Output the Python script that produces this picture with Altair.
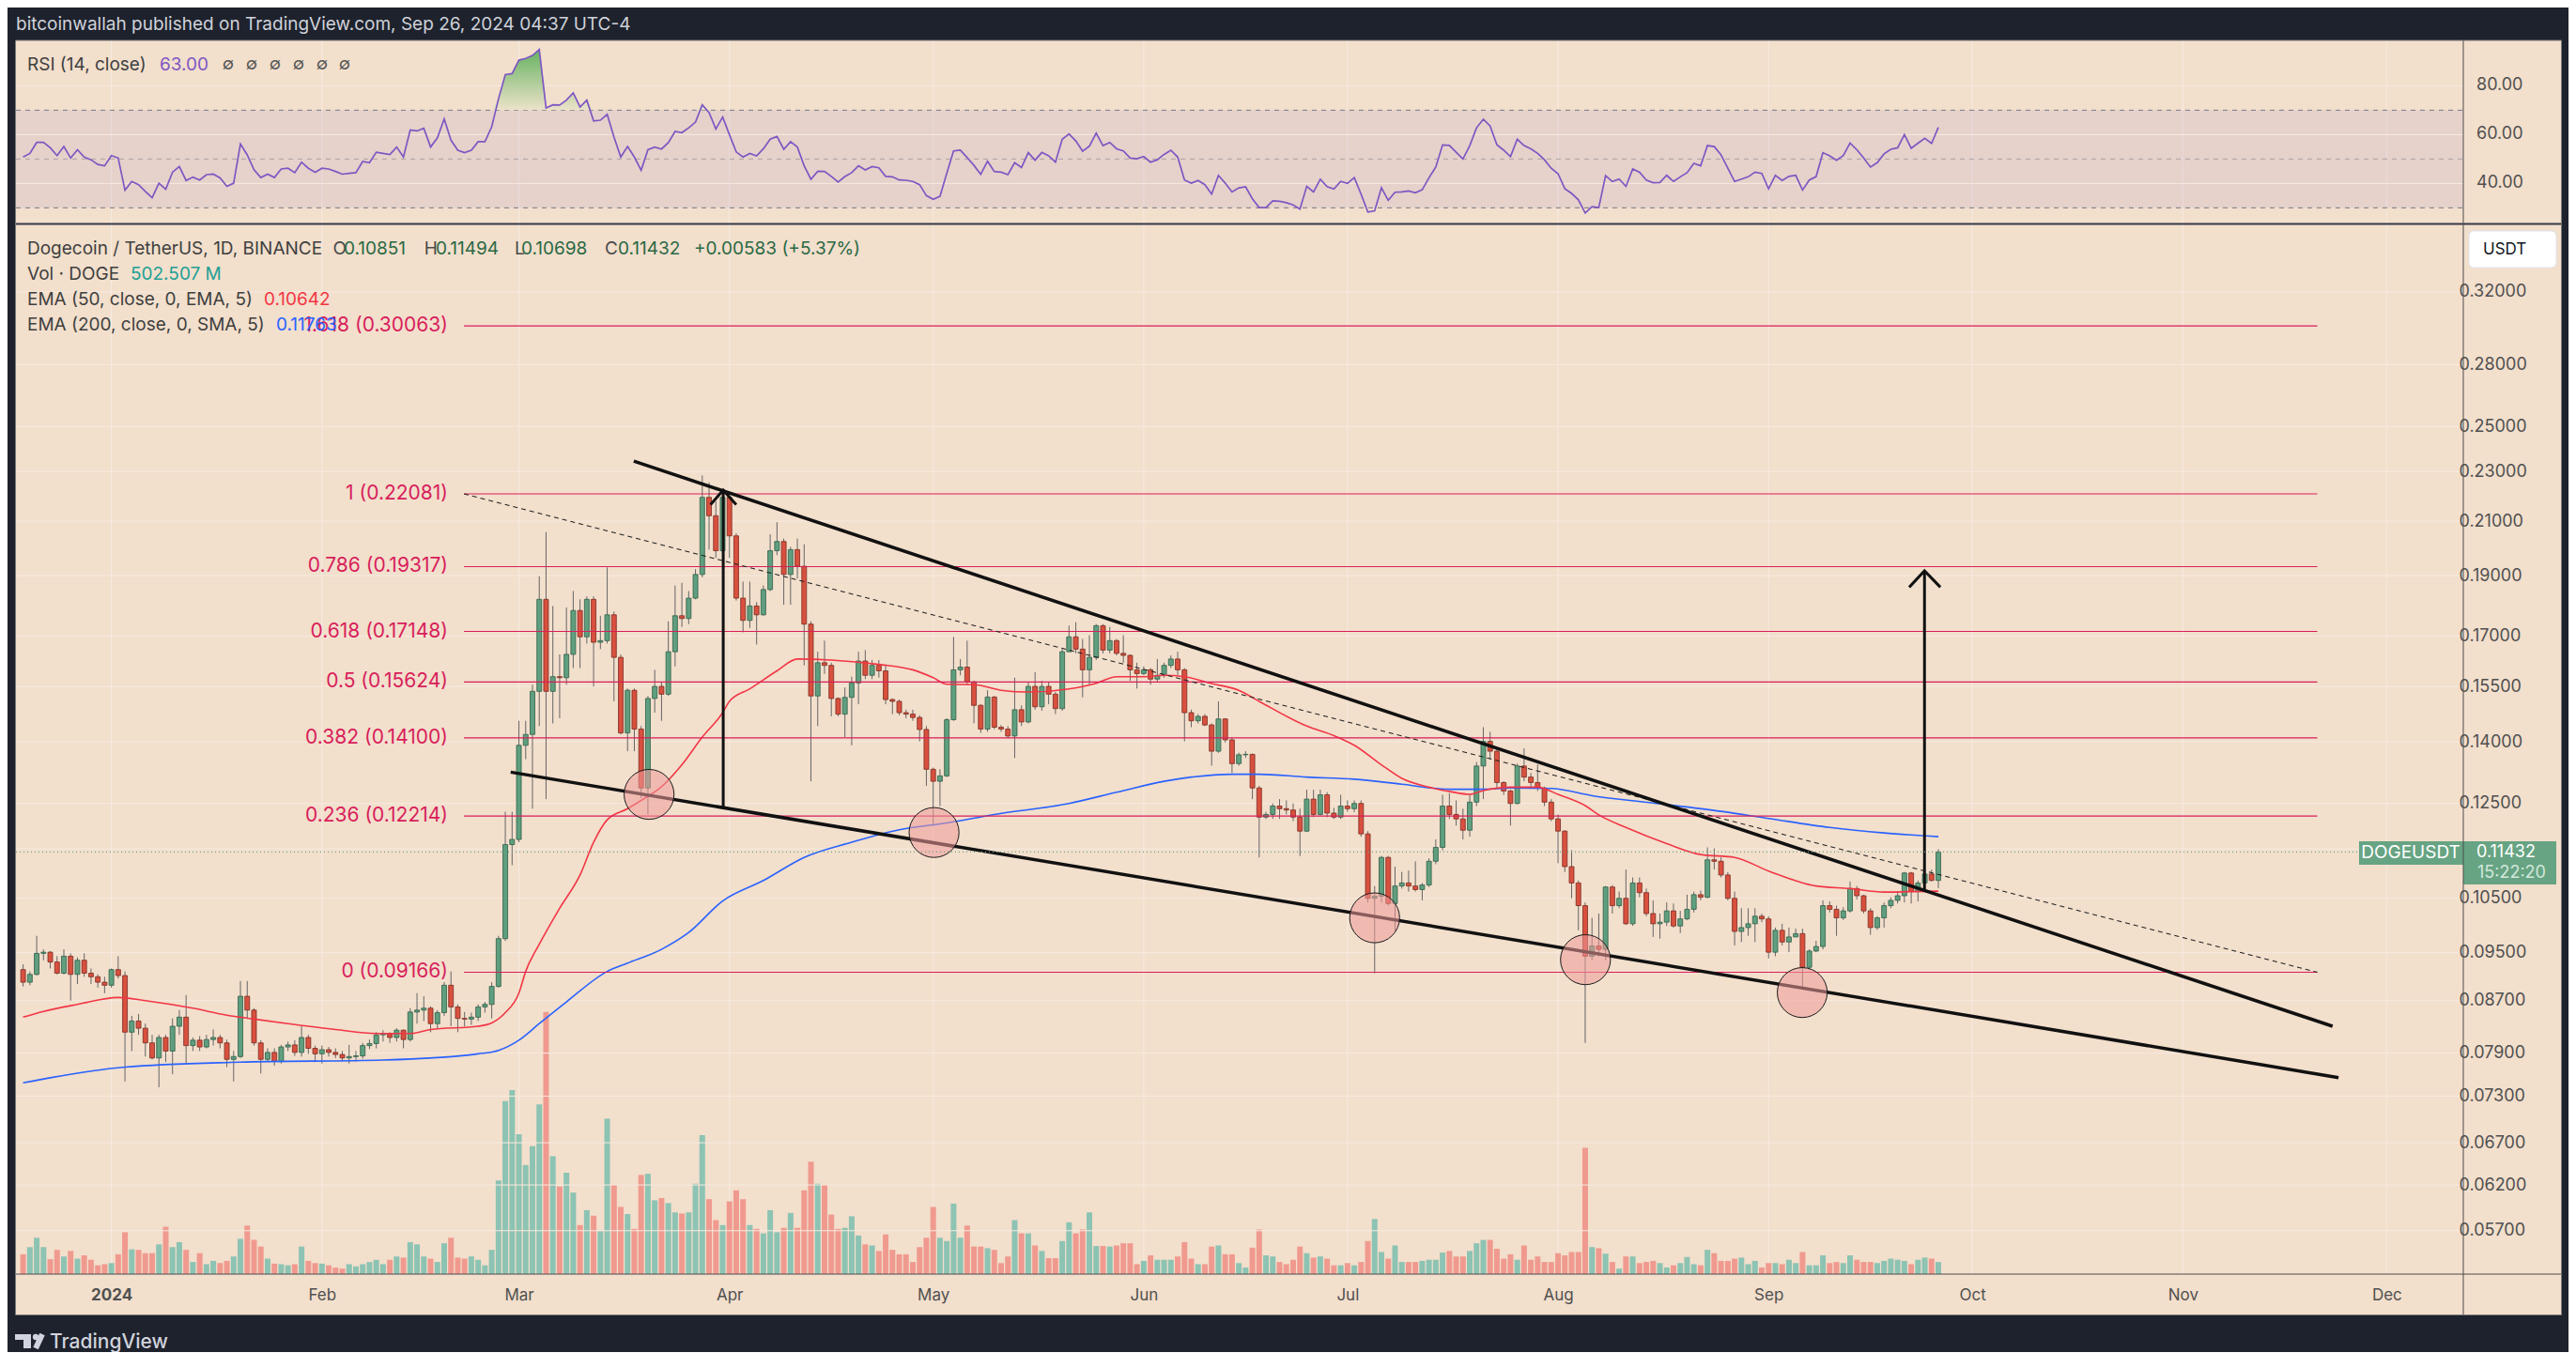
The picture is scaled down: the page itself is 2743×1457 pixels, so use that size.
import altair as alt
import pandas as pd

# ---------------- data ----------------
START_DATE = "2023-12-19"
first_open = 0.0921

close = [
    0.0900, 0.0913, 0.0949, 0.0951, 0.0934, 0.0915, 0.0944, 0.0913, 0.0937, 0.0915,
    0.0909, 0.0900, 0.0895, 0.0921, 0.0911, 0.0821, 0.0838, 0.0827, 0.0805, 0.0783,
    0.0813, 0.0793, 0.0830, 0.0844, 0.0801, 0.0809, 0.0799, 0.0810, 0.0813, 0.0805,
    0.0781, 0.0785, 0.0877, 0.0855, 0.0805, 0.0781, 0.0791, 0.0778, 0.0799, 0.0802,
    0.0791, 0.0813, 0.0797, 0.0789, 0.0795, 0.0791, 0.0788, 0.0783, 0.0785, 0.0786,
    0.0801, 0.0804, 0.0817, 0.0819, 0.0813, 0.0824, 0.0810, 0.0852, 0.0855, 0.0858,
    0.0834, 0.0851, 0.0895, 0.0860, 0.0842, 0.0841, 0.0844, 0.0860, 0.0864, 0.0893,
    0.0975, 0.1159, 0.1170, 0.1391, 0.1419, 0.1536, 0.1819, 0.1536, 0.1578, 0.1575,
    0.1644, 0.1782, 0.1698, 0.1819, 0.1681, 0.1686, 0.1768, 0.1635, 0.1423, 0.1539,
    0.1433, 0.1286, 0.1516, 0.1550, 0.1528, 0.1652, 0.1765, 0.1756, 0.1823, 0.1904,
    0.2194, 0.2121, 0.1989, 0.2194, 0.2044, 0.1823, 0.1750, 0.1797, 0.1768, 0.1852,
    0.1989, 0.2023, 0.1904, 0.1993, 0.1933, 0.1738, 0.1523, 0.1619, 0.1611, 0.1516,
    0.1473, 0.1519, 0.1560, 0.1624, 0.1582, 0.1611, 0.1595, 0.1513, 0.1508, 0.1477,
    0.1473, 0.1464, 0.1432, 0.1331, 0.1302, 0.1315, 0.1458, 0.1598, 0.1606, 0.1563,
    0.1497, 0.1433, 0.1520, 0.1438, 0.1433, 0.1415, 0.1485, 0.1452, 0.1550, 0.1493,
    0.1550, 0.1528, 0.1488, 0.1652, 0.1698, 0.1660, 0.1598, 0.1635, 0.1733, 0.1657,
    0.1686, 0.1647, 0.1641, 0.1598, 0.1587, 0.1598, 0.1571, 0.1582, 0.1611, 0.1630,
    0.1598, 0.1477, 0.1455, 0.1467, 0.1444, 0.1376, 0.1460, 0.1405, 0.1345, 0.1367,
    0.1368, 0.1286, 0.1219, 0.1225, 0.1244, 0.1238, 0.1235, 0.1219, 0.1188, 0.1260,
    0.1225, 0.1270, 0.1228, 0.1219, 0.1244, 0.1238, 0.1250, 0.1182, 0.1050, 0.1054,
    0.1132, 0.1040, 0.1074, 0.1080, 0.1074, 0.1067, 0.1076, 0.1124, 0.1153, 0.1244,
    0.1225, 0.1215, 0.1190, 0.1253, 0.1339, 0.1401, 0.1376, 0.1299, 0.1279, 0.1250,
    0.1339, 0.1312, 0.1299, 0.1286, 0.1253, 0.1215, 0.1188, 0.1113, 0.1080, 0.1036,
    0.0944, 0.0962, 0.0956, 0.1072, 0.1036, 0.1050, 0.1002, 0.1080, 0.1061, 0.1021,
    0.1002, 0.1005, 0.1026, 0.0998, 0.1011, 0.1029, 0.1057, 0.1052, 0.1127, 0.1124,
    0.1096, 0.1050, 0.0988, 0.0995, 0.1002, 0.1016, 0.1011, 0.0951, 0.0990, 0.0969,
    0.0978, 0.0984, 0.0925, 0.0953, 0.0961, 0.1036, 0.1029, 0.1013, 0.1026, 0.1069,
    0.1055, 0.1026, 0.0995, 0.1013, 0.1036, 0.1046, 0.1055, 0.1100, 0.1063, 0.1080,
    0.1098, 0.10851, 0.11432,
]

high = [
    0.0930, 0.0918, 0.0980, 0.0956, 0.0953, 0.0944, 0.0956, 0.0949, 0.0942, 0.0949,
    0.0923, 0.0913, 0.0909, 0.0923, 0.0944, 0.0918, 0.0846, 0.0849, 0.0834, 0.0817,
    0.0817, 0.0817, 0.0842, 0.0855, 0.0879, 0.0813, 0.0815, 0.0817, 0.0825, 0.0817,
    0.0810, 0.0793, 0.0902, 0.0902, 0.0858, 0.0809, 0.0797, 0.0797, 0.0802, 0.0807,
    0.0809, 0.0830, 0.0817, 0.0801, 0.0801, 0.0799, 0.0797, 0.0793, 0.0802, 0.0793,
    0.0805, 0.0810, 0.0821, 0.0824, 0.0821, 0.0827, 0.0825, 0.0858, 0.0882, 0.0877,
    0.0861, 0.0855, 0.0900, 0.0918, 0.0864, 0.0852, 0.0851, 0.0864, 0.0868, 0.0900,
    0.0980, 0.1231, 0.1231, 0.1455, 0.1455, 0.1555, 0.1898, 0.2058, 0.1797, 0.1644,
    0.1792, 0.1847, 0.1819, 0.1829, 0.1829, 0.1765, 0.1929, 0.1779, 0.1644, 0.1544,
    0.1544, 0.1441, 0.1523, 0.1598, 0.1563, 0.1747, 0.1866, 0.1875, 0.1847, 0.1923,
    0.2284, 0.2255, 0.2178, 0.2227, 0.2205, 0.2054, 0.1879, 0.1879, 0.1810, 0.1866,
    0.2050, 0.2096, 0.2034, 0.2003, 0.2034, 0.2013, 0.1747, 0.1652, 0.1686, 0.1619,
    0.1519, 0.1547, 0.1578, 0.1652, 0.1657, 0.1627, 0.1627, 0.1614, 0.1516, 0.1513,
    0.1485, 0.1485, 0.1470, 0.1441, 0.1335, 0.1331, 0.1462, 0.1698, 0.1630, 0.1686,
    0.1566, 0.1500, 0.1539, 0.1523, 0.1444, 0.1441, 0.1575, 0.1497, 0.1563, 0.1591,
    0.1566, 0.1563, 0.1534, 0.1660, 0.1733, 0.1744, 0.1691, 0.1703, 0.1738, 0.1738,
    0.1729, 0.1691, 0.1703, 0.1644, 0.1619, 0.1608, 0.1603, 0.1630, 0.1619, 0.1641,
    0.1652, 0.1603, 0.1485, 0.1473, 0.1473, 0.1448, 0.1508, 0.1462, 0.1412, 0.1372,
    0.1376, 0.1370, 0.1291, 0.1231, 0.1250, 0.1260, 0.1257, 0.1250, 0.1238, 0.1282,
    0.1282, 0.1282, 0.1276, 0.1240, 0.1270, 0.1257, 0.1257, 0.1257, 0.1188, 0.1074,
    0.1135, 0.1135, 0.1113, 0.1102, 0.1105, 0.1124, 0.1080, 0.1130, 0.1170, 0.1270,
    0.1274, 0.1257, 0.1238, 0.1270, 0.1349, 0.1438, 0.1426, 0.1383, 0.1302, 0.1282,
    0.1345, 0.1383, 0.1322, 0.1343, 0.1289, 0.1260, 0.1225, 0.1190, 0.1147, 0.1085,
    0.1042, 0.1013, 0.1021, 0.1074, 0.1076, 0.1063, 0.1107, 0.1091, 0.1091, 0.1069,
    0.1046, 0.1021, 0.1042, 0.1040, 0.1026, 0.1057, 0.1063, 0.1065, 0.1153, 0.1151,
    0.1132, 0.1102, 0.1063, 0.1031, 0.1031, 0.1031, 0.1021, 0.1016, 0.0995, 0.1002,
    0.0995, 0.0993, 0.0993, 0.0956, 0.0971, 0.1046, 0.1044, 0.1036, 0.1033, 0.1083,
    0.1074, 0.1057, 0.1031, 0.1016, 0.1042, 0.1052, 0.1063, 0.1102, 0.1102, 0.1085,
    0.1105, 0.1107, 0.11494,
]

low = [
    0.0893, 0.0895, 0.0911, 0.0937, 0.0923, 0.0913, 0.0913, 0.0870, 0.0897, 0.0909,
    0.0897, 0.0891, 0.0882, 0.0891, 0.0906, 0.0750, 0.0793, 0.0817, 0.0785, 0.0781,
    0.0742, 0.0777, 0.0760, 0.0817, 0.0775, 0.0793, 0.0793, 0.0797, 0.0801, 0.0797,
    0.0770, 0.0750, 0.0783, 0.0842, 0.0801, 0.0761, 0.0777, 0.0772, 0.0775, 0.0793,
    0.0786, 0.0785, 0.0789, 0.0777, 0.0775, 0.0785, 0.0783, 0.0778, 0.0775, 0.0778,
    0.0782, 0.0796, 0.0797, 0.0807, 0.0805, 0.0807, 0.0797, 0.0807, 0.0834, 0.0838,
    0.0821, 0.0827, 0.0846, 0.0830, 0.0821, 0.0830, 0.0832, 0.0838, 0.0851, 0.0842,
    0.0891, 0.0971, 0.1116, 0.1164, 0.1356, 0.1238, 0.1441, 0.1260, 0.1448, 0.1462,
    0.1555, 0.1603, 0.1603, 0.1677, 0.1550, 0.1660, 0.1677, 0.1508, 0.1419, 0.1376,
    0.1376, 0.1263, 0.1225, 0.1477, 0.1455, 0.1523, 0.1608, 0.1729, 0.1738, 0.1819,
    0.1894, 0.1993, 0.1963, 0.1953, 0.1963, 0.1815, 0.1712, 0.1726, 0.1674, 0.1765,
    0.1847, 0.1973, 0.1801, 0.1801, 0.1890, 0.1611, 0.1302, 0.1441, 0.1586, 0.1467,
    0.1467, 0.1412, 0.1391, 0.1500, 0.1571, 0.1571, 0.1575, 0.1500, 0.1473, 0.1470,
    0.1462, 0.1455, 0.1401, 0.1291, 0.1200, 0.1244, 0.1312, 0.1455, 0.1582, 0.1555,
    0.1448, 0.1423, 0.1426, 0.1433, 0.1426, 0.1409, 0.1359, 0.1441, 0.1448, 0.1485,
    0.1482, 0.1500, 0.1473, 0.1482, 0.1652, 0.1647, 0.1519, 0.1555, 0.1627, 0.1647,
    0.1647, 0.1641, 0.1619, 0.1566, 0.1544, 0.1582, 0.1555, 0.1563, 0.1575, 0.1603,
    0.1582, 0.1401, 0.1438, 0.1448, 0.1441, 0.1340, 0.1372, 0.1398, 0.1322, 0.1340,
    0.1359, 0.1260, 0.1132, 0.1215, 0.1215, 0.1215, 0.1225, 0.1210, 0.1135, 0.1186,
    0.1219, 0.1223, 0.1219, 0.1215, 0.1215, 0.1231, 0.1230, 0.1176, 0.1042, 0.0915,
    0.1042, 0.1036, 0.0988, 0.1069, 0.1063, 0.1063, 0.1046, 0.1072, 0.1118, 0.1147,
    0.1215, 0.1200, 0.1170, 0.1176, 0.1244, 0.1260, 0.1356, 0.1286, 0.1270, 0.1200,
    0.1248, 0.1302, 0.1289, 0.1279, 0.1244, 0.1210, 0.1120, 0.1102, 0.1050, 0.0990,
    0.0805, 0.0937, 0.0944, 0.0937, 0.1021, 0.1031, 0.1000, 0.0998, 0.1052, 0.1016,
    0.0978, 0.0975, 0.0998, 0.0995, 0.0985, 0.1009, 0.1023, 0.1046, 0.1050, 0.1107,
    0.1091, 0.1046, 0.0963, 0.0969, 0.0980, 0.0969, 0.1005, 0.0940, 0.0944, 0.0963,
    0.0951, 0.0980, 0.0891, 0.0921, 0.0951, 0.0956, 0.1023, 0.0980, 0.1009, 0.1023,
    0.1048, 0.1021, 0.0982, 0.0991, 0.0995, 0.1031, 0.1040, 0.1042, 0.1040, 0.1044,
    0.1074, 0.1083, 0.10698,
]

volume_m = [
    822, 1119, 1507, 1119, 617, 1005, 731, 959, 640, 777,
    594, 365, 411, 457, 822, 1736, 1028, 1005, 868, 868,
    1233, 1964, 1119, 1325, 1005, 502, 868, 411, 548, 457,
    548, 731, 1462, 2010, 1416, 1142, 640, 434, 411, 365,
    411, 1142, 548, 457, 434, 365, 274, 228, 411, 320,
    411, 502, 594, 411, 594, 731, 685, 1325, 1233, 731,
    640, 502, 1279, 1507, 685, 640, 731, 594, 365, 1005,
    3883, 7172, 7629, 5801, 4522, 5299, 7035, 10872, 4888, 3632,
    4203, 3380, 2033, 2649, 2421, 1782, 6441, 3700, 2786, 2490,
    1873, 4111, 4157, 3061, 3152, 2946, 2558, 2512, 2558, 3746,
    5756, 3106, 2238, 2033, 3015, 3472, 3106, 2033, 1873, 1690,
    2649, 1736, 1919, 2535, 1919, 3472, 4659, 3746, 3700, 2467,
    1873, 1919, 2398, 1599, 1233, 1188, 959, 1644, 1005, 822,
    822, 502, 1119, 1507, 2786, 1507, 1370, 2924, 1507, 2010,
    1142, 1142, 1073, 1005, 457, 731, 2238, 1690, 1690, 1188,
    959, 662, 662, 1370, 2147, 1690, 1850, 2558, 1165, 1165,
    1142, 1188, 1279, 1279, 411, 548, 777, 594, 594, 594,
    731, 1325, 640, 411, 411, 1142, 1188, 822, 822, 457,
    274, 1096, 1850, 777, 731, 502, 411, 594, 1142, 868,
    685, 731, 640, 365, 365, 457, 365, 502, 1370, 2284,
    914, 640, 1188, 502, 502, 502, 548, 594, 594, 891,
    959, 731, 731, 959, 1279, 1416, 1416, 1051, 640, 822,
    594, 1188, 594, 731, 502, 502, 868, 777, 914, 914,
    5230, 1119, 1073, 845, 502, 228, 731, 731, 457, 502,
    548, 457, 274, 365, 457, 708, 411, 365, 1005, 868,
    548, 548, 640, 685, 411, 548, 274, 457, 457, 411,
    594, 457, 914, 365, 365, 777, 457, 502, 457, 777,
    594, 502, 502, 457, 548, 640, 594, 548, 411, 594,
    685, 640, 503,
]

rsi = [
    50.8, 52.3, 56.8, 56.8, 54.6, 51.4, 55.1, 50.4, 53.8, 50.8,
    49.7, 47.8, 47.2, 51.4, 50.4, 37.2, 40.8, 39.5, 36.7, 34.1,
    40.1, 37.6, 44.6, 46.9, 41.2, 42.6, 41.4, 43.6, 43.8, 42.3,
    38.8, 40.1, 56.2, 51.7, 45.6, 42.4, 43.8, 42.4, 45.9, 46.2,
    44.4, 48.7, 46.2, 44.6, 46.2, 45.9, 44.9, 43.8, 44.1, 44.4,
    49.0, 48.5, 52.8, 52.3, 51.8, 54.9, 50.8, 61.9, 61.5, 62.6,
    54.9, 58.7, 66.4, 57.7, 53.6, 52.6, 53.6, 57.1, 57.1, 63.2,
    74.7, 84.6, 85.0, 90.5, 91.2, 92.4, 94.9, 70.9, 72.2, 72.1,
    74.1, 77.1, 71.3, 74.1, 65.6, 65.9, 68.3, 59.0, 50.8, 55.1,
    50.8, 45.4, 53.8, 54.9, 54.1, 56.7, 61.3, 60.8, 62.8, 65.1,
    72.2, 69.0, 62.3, 67.2, 60.0, 52.9, 50.8, 52.3, 51.3, 54.2,
    58.1, 59.2, 54.0, 57.1, 54.9, 47.2, 41.7, 45.0, 44.9, 42.9,
    40.6, 42.8, 44.4, 47.2, 45.5, 46.9, 46.4, 42.9, 42.7, 41.4,
    41.3, 40.8, 39.5, 35.0, 33.5, 34.7, 44.2, 53.3, 53.6, 50.6,
    47.4, 43.7, 49.1, 44.9, 44.6, 43.6, 48.5, 46.5, 52.6, 49.5,
    52.7, 51.3, 48.7, 58.1, 60.3, 57.4, 53.2, 55.3, 60.6, 55.5,
    56.8, 54.2, 53.3, 50.4, 50.1, 51.0, 48.7, 49.7, 51.9, 53.6,
    50.8, 41.4, 40.1, 41.2, 39.5, 35.6, 43.3, 40.1, 36.5, 38.2,
    38.6, 33.7, 30.1, 30.1, 32.9, 32.7, 32.1, 31.2, 29.5, 38.8,
    36.5, 41.7, 38.7, 37.7, 40.8, 40.0, 42.4, 35.6, 28.3, 28.8,
    38.2, 33.1, 36.4, 36.5, 36.9, 36.2, 37.4, 42.3, 46.7, 55.8,
    55.6, 52.8, 50.0, 55.5, 62.8, 66.3, 63.5, 55.8, 53.6, 51.0,
    58.1, 55.5, 54.2, 52.3, 49.7, 46.2, 44.0, 37.9, 35.9, 33.3,
    27.9, 30.5, 30.1, 43.2, 40.8, 41.8, 38.8, 45.9, 44.6, 41.4,
    40.3, 40.4, 43.3, 40.8, 42.7, 44.4, 48.2, 47.2, 55.5, 55.1,
    51.7, 46.2, 40.8, 41.8, 42.7, 44.6, 44.1, 37.8, 43.3, 41.2,
    42.9, 43.3, 37.3, 41.4, 42.8, 52.6, 51.3, 49.5, 51.4, 56.5,
    53.8, 50.4, 46.7, 48.5, 52.1, 54.0, 54.6, 60.0, 54.4, 56.5,
    58.5, 56.4, 63.0,
]

ema50_idx = [0, 3, 8, 14, 18, 25, 30, 34, 39, 46, 52, 57, 60, 67, 69, 71, 73, 74, 76, 79,
             82, 84, 86, 89, 91, 94, 97, 100, 103, 104, 107, 111, 114, 119, 126, 131, 134, 136, 140, 144,
             148, 154, 158, 161, 165, 168, 171, 175, 179, 182, 189, 193, 196, 200, 203, 207, 210, 213, 215, 219,
             223, 226, 230, 232, 236, 242, 247, 252, 257, 264, 269, 274, 278, 282]
ema50_val = [0.0844, 0.0853, 0.0864, 0.0875, 0.0870, 0.0858, 0.0847, 0.0841, 0.0834, 0.0825,
             0.0819, 0.0819, 0.0825, 0.0830, 0.0835, 0.0851, 0.0882, 0.0918, 0.0965, 0.1031,
             0.1096, 0.1164, 0.1213, 0.1238, 0.1257, 0.1289, 0.1342, 0.1412, 0.1477, 0.1508,
             0.1543, 0.1595, 0.1630, 0.1627, 0.1614, 0.1598, 0.1575, 0.1556, 0.1555, 0.1539,
             0.1534, 0.1543, 0.1559, 0.1578, 0.1578, 0.1582, 0.1578, 0.1558, 0.1539, 0.1508,
             0.1441, 0.1416, 0.1391, 0.1342, 0.1309, 0.1288, 0.1278, 0.1271, 0.1280, 0.1288,
             0.1288, 0.1271, 0.1245, 0.1224, 0.1196, 0.1161, 0.1138, 0.1132, 0.1104, 0.1074,
             0.1069, 0.1062, 0.1063, 0.1064]

ema200_idx = [0, 4, 15, 32, 53, 67, 70, 73, 76, 80, 86, 89, 94, 98, 103, 109, 115, 122, 129, 136,
              143, 154, 161, 168, 172, 178, 182, 189, 196, 203, 210, 215, 219, 225, 231, 240, 250, 257, 266, 274,
              282]
ema200_val = [0.0748, 0.0755, 0.0770, 0.0777, 0.0780, 0.0789, 0.0794, 0.0809, 0.0834, 0.0868,
              0.0918, 0.0932, 0.0956, 0.0986, 0.1045, 0.1085, 0.1132, 0.1164, 0.1191, 0.1206,
              0.1225, 0.1250, 0.1276, 0.1302, 0.1312, 0.1319, 0.1319, 0.1312, 0.1307, 0.1295,
              0.1283, 0.1283, 0.1286, 0.1285, 0.1268, 0.1251, 0.1232, 0.1216, 0.1196, 0.1184,
              0.1176]

fib_ratios = ["1.618", "1", "0.786", "0.618", "0.5", "0.382", "0.236", "0"]
fib_prices = [0.30063, 0.22081, 0.19317, 0.17148, 0.15624, 0.14100, 0.12214, 0.09166]
fib_start = "2024-02-21T22:00:00Z"
fib_end = "2024-11-20T19:00:00Z"

trend_dates = ["2024-03-17T22:00:00Z", "2024-11-23T01:00:00Z", "2024-02-28T19:00:00Z", "2024-11-23T22:00:00Z"]
trend_prices = [0.2345, 0.0830, 0.1324, 0.07553]
trend_ids = ["upper", "upper", "lower", "lower"]

diag_dates = [fib_start, fib_end]
diag_prices = [0.22081, 0.09166]

arrow_dates = ["2024-03-31T02:00:00Z", "2024-03-31T02:00:00Z",
               "2024-03-29T05:00:00Z", "2024-03-31T02:00:00Z", "2024-04-02T00:00:00Z",
               "2024-09-23T23:00:00Z", "2024-09-23T23:00:00Z",
               "2024-09-21T17:00:00Z", "2024-09-23T23:00:00Z", "2024-09-26T07:00:00Z"]
arrow_prices = [0.1238, 0.2223, 0.2165, 0.2223, 0.2165, 0.1063, 0.1917, 0.1860, 0.1917, 0.1860]
arrow_seg = ["a1", "a1", "h1", "h1", "h1", "a2", "a2", "h2", "h2", "h2"]
arrow_ord = [0, 1, 0, 1, 2, 0, 1, 0, 1, 2]

circle_dates = ["2024-03-20T04:00:00Z", "2024-05-01T03:00:00Z", "2024-07-05T00:00:00Z",
                "2024-08-05T01:00:00Z", "2024-09-05T23:00:00Z"]
circle_prices = [0.1271, 0.1185, 0.1013, 0.0938, 0.0883]

last_price = 0.11432
ohlc_keys = ["O", "H", "L", "C"]
ohlc_vals = ["0.10851", "0.11494", "0.10698", "0.11432"]
change_txt = "+0.00583 (+5.37%)"
price_ticks = [0.32, 0.28, 0.25, 0.23, 0.21, 0.19, 0.17, 0.155, 0.14, 0.125, 0.115,
               0.105, 0.095, 0.087, 0.079, 0.073, 0.067, 0.062, 0.057]
rsi_ticks = [40, 60, 80]
rsi_levels = [70, 50, 30]
month_ticks = ["2024-%02d-01T00:00:00Z" % m for m in range(1, 13)]

# ---------------- style ----------------
FONT = "Inter"
BG_DARK = "#1e222d"
PEACH = "#f2dfcc"
GRID = "#f7ebe1"
AXIS_TXT = "#505050"
TXT = "#3f3f3f"
CRIMSON = "#d81e5b"
UP_FILL, UP_EDGE = "#5f9f7f", "#2f5e47"
DN_FILL, DN_EDGE = "#d9503e", "#7a2b21"
WICK = "#666666"
VOL_UP, VOL_DN = "#8dc3b3", "#f09a8f"
LBL_GREEN = "#67a483"
VAL_GREEN = "#2a6844"
W, H = 2606, 1314
LEG = 19   # legend font size

# ---------------- frames ----------------
n = len(close)
base = pd.Timestamp(START_DATE)
dates = [(base + pd.Timedelta(days=i)).strftime("%Y-%m-%dT00:00:00Z") for i in range(n)]
opens = [first_open] + close[:-1]
df = pd.DataFrame(dict(date=dates, open=opens, high=high, low=low, close=close,
                       vol=volume_m, rsi=rsi))
df["high"] = df[["high", "open", "close"]].max(axis=1)
df["low"] = df[["low", "open", "close"]].min(axis=1)
df["dir"] = ["up" if c >= o else "down" for o, c in zip(df["open"], df["close"])]
df["rsi_top"] = df["rsi"].clip(lower=70)
df["rsi_base"] = 70.0

ema50 = pd.DataFrame({"date": [dates[i] for i in ema50_idx], "v": ema50_val})
ema200 = pd.DataFrame({"date": [dates[i] for i in ema200_idx], "v": ema200_val})
fib = pd.DataFrame({"price": fib_prices,
                    "label": [f"{r} ({p:.5f})" for r, p in zip(fib_ratios, fib_prices)],
                    "start": fib_start, "end": fib_end})
trend = pd.DataFrame({"date": trend_dates, "price": trend_prices, "line": trend_ids})
diag = pd.DataFrame({"date": diag_dates, "price": diag_prices})
arrows = pd.DataFrame({"date": arrow_dates, "price": arrow_prices, "seg": arrow_seg, "ord": arrow_ord})
circles = pd.DataFrame({"date": circle_dates, "price": circle_prices})
cp = pd.DataFrame({"price": [last_price], "label": ["DOGEUSDT"], "p": [f"{last_price:.5f}"],
                   "t": ["15:22:20"]})
rsi_lab = pd.DataFrame({"v": rsi_ticks, "s": [f"{v:.2f}" for v in rsi_ticks]})
ONE = pd.DataFrame({"k": [0]})

# ---------------- scales / axes ----------------
X_SCALE = alt.Scale(type="utc", domain=[
    alt.DateTime(year=2023, month=12, date=18, hours=15, minutes=22, utc=True),
    alt.DateTime(year=2024, month=12, date=11, hours=14, minutes=24, utc=True)])
X_AXIS = alt.Axis(
    values=[alt.DateTime(year=2024, month=m, date=1, utc=True) for m in range(1, 13)],
    labelExpr="utcmonth(datum.value) === 0 ? utcFormat(datum.value, '%Y') : utcFormat(datum.value, '%b')",
    labelFontWeight={"condition": {"test": "utcmonth(datum.value) === 0", "value": "bold"}, "value": "normal"},
    grid=False, domain=False, ticks=False, tickSize=0, labelPadding=22, labelBaseline="middle",
    labelFontSize=17, labelColor=AXIS_TXT, labelFont=FONT, labelFlush=False, labelOverlap=False,
    title=None, zindex=1)

PRICE_SCALE = alt.Scale(type="log", domain=[0.05263, 0.3617], range=[H, 197], nice=False)
PRICE_AXIS = alt.Axis(
    orient="right", values=price_ticks,
    labelExpr="datum.value === 0.115 ? '' : format(datum.value, '.5f')",
    grid=False, domain=False, ticks=False, tickSize=0, labelPadding=-5, labelAlign="left",
    labelBaseline="middle", labelFontSize=18, labelColor=AXIS_TXT, labelFont=FONT,
    labelFlush=False, labelOverlap=False, title=None, zindex=1)

RSI_SCALE = alt.Scale(domain=[23.6, 98.6], range=[195, 0], nice=False, zero=False)
VOL_SCALE = alt.Scale(domain=[0, 43474], range=[H, 197], nice=False, zero=True)


def X(f):
    return alt.X(f"{f}:T", scale=X_SCALE, axis=X_AXIS)


def YP(f):
    return alt.Y(f"{f}:Q", scale=PRICE_SCALE, axis=PRICE_AXIS)


def YR(f):
    return alt.Y(f"{f}:Q", scale=RSI_SCALE, axis=None)


def box(x1, y1, x2, y2, fill, fill_opacity=1.0, stroke="#000000", sw=0.0, radius=0):
    return alt.Chart(ONE).mark_rect(fill=fill, fillOpacity=fill_opacity, stroke=stroke,
                                    strokeWidth=sw, cornerRadius=radius).encode(
        x=alt.value(x1), x2=alt.value(x2), y=alt.value(y1), y2=alt.value(y2))


def seg(x1, y1, x2, y2, color, w):
    return alt.Chart(ONE).mark_rule(color=color, strokeWidth=w).encode(
        x=alt.value(x1), x2=alt.value(x2), y=alt.value(y1), y2=alt.value(y2))


def txt(s, x, y, color, size=LEG, weight="normal", align="left"):
    return alt.Chart(ONE).mark_text(text=s, align=align, baseline="middle", color=color,
                                    fontSize=size, fontWeight=weight, font=FONT).encode(
        x=alt.value(x), y=alt.value(y))


# ---------------- layers ----------------
bg = box(0, 0, 2710, 1357, PEACH)

xgrid = alt.Chart(pd.DataFrame({"m": month_ticks})).mark_rule(color=GRID, strokeWidth=1).encode(
    x=X("m"), y=alt.value(0), y2=alt.value(H))

gradient = {"gradient": "linear", "x1": 0, "x2": 0, "y1": 0, "y2": 1,
            "stops": [{"offset": 0, "color": "#55ad55"}, {"offset": 1, "color": "#ece3c9"}]}

rsi_layer = alt.layer(
    alt.Chart(pd.DataFrame({"lo": [30], "hi": [70]})).mark_rect(color="#7e57c2", opacity=0.1).encode(
        x=alt.value(0), x2=alt.value(W), y=YR("hi"), y2="lo:Q"),
    alt.Chart(pd.DataFrame({"v": rsi_ticks})).mark_rule(color=GRID, strokeWidth=1).encode(
        x=alt.value(0), x2=alt.value(W), y=YR("v")),
    alt.Chart(pd.DataFrame({"v": rsi_levels, "o": [1.0, 0.55, 1.0]})).mark_rule(
        color="#787b86", strokeDash=[5, 5], strokeWidth=1).encode(
        x=alt.value(0), x2=alt.value(W), y=YR("v"), opacity=alt.Opacity("o:Q", scale=None, legend=None)),
    alt.Chart(df).mark_area(color=gradient, opacity=0.9).encode(
        x=X("date"), y=YR("rsi_top"), y2="rsi_base:Q"),
    alt.Chart(df).mark_line(color="#7e57c2", strokeWidth=1.7).encode(x=X("date"), y=YR("rsi")),
    alt.Chart(rsi_lab).mark_text(align="left", baseline="middle", fontSize=18, color=AXIS_TXT, font=FONT).encode(
        x=alt.value(2620), y=YR("v"), text="s:N"),
)

vol_layer = alt.Chart(df).mark_bar(size=6).encode(
    x=X("date"),
    y=alt.Y("vol:Q", scale=VOL_SCALE, axis=None),
    color=alt.when(alt.datum.dir == "up").then(alt.value(VOL_UP)).otherwise(alt.value(VOL_DN)),
)

price_layer = alt.layer(
    alt.Chart(pd.DataFrame({"v": price_ticks})).mark_rule(color=GRID, strokeWidth=1).encode(
        x=alt.value(0), x2=alt.value(W), y=YP("v")),
    alt.Chart(df).mark_rule(color=WICK, strokeWidth=1).encode(x=X("date"), y=YP("low"), y2="high:Q"),
    alt.Chart(df).mark_bar(size=5, strokeWidth=0.8).encode(
        x=X("date"), y=YP("open"), y2="close:Q",
        fill=alt.when(alt.datum.dir == "up").then(alt.value(UP_FILL)).otherwise(alt.value(DN_FILL)),
        stroke=alt.when(alt.datum.dir == "up").then(alt.value(UP_EDGE)).otherwise(alt.value(DN_EDGE)),
    ),
    alt.Chart(ema200).mark_line(color="#2962ff", strokeWidth=1.6, interpolate="monotone").encode(
        x=X("date"), y=YP("v")),
    alt.Chart(ema50).mark_line(color="#f23645", strokeWidth=1.6, interpolate="monotone").encode(
        x=X("date"), y=YP("v")),
    alt.Chart(fib).mark_rule(color=CRIMSON, strokeWidth=1.2).encode(
        x=X("start"), x2="end:T", y=YP("price")),
    alt.Chart(fib).mark_text(align="right", baseline="middle", fontSize=21, color=CRIMSON, font=FONT).encode(
        x=alt.value(460), y=YP("price"), text="label:N"),
    alt.Chart(diag).mark_line(color="#222222", strokeWidth=1.2, strokeDash=[5, 4]).encode(
        x=X("date"), y=YP("price")),
    alt.Chart(trend).mark_line(color="#111111", strokeWidth=3.5).encode(
        x=X("date"), y=YP("price"), detail="line:N"),
    alt.Chart(circles).mark_circle(size=2827, fill="#ef9a9a", fillOpacity=0.55, stroke="#1a1a1a",
                                   strokeWidth=1, strokeOpacity=1, opacity=1).encode(
        x=X("date"), y=YP("price")),
    alt.Chart(arrows).mark_line(color="#111111", strokeWidth=3).encode(
        x=X("date"), y=YP("price"), detail="seg:N", order="ord:Q"),
    alt.Chart(cp).mark_rule(color=LBL_GREEN, strokeDash=[1, 3], strokeWidth=1.2).encode(
        x=alt.value(0), x2=alt.value(2495), y=YP("price")),
    alt.Chart(cp).mark_rule(color=LBL_GREEN, strokeWidth=25, yOffset=1).encode(
        x=alt.value(2495), x2=alt.value(2606), y=YP("price")),
    alt.Chart(cp).mark_rule(color=LBL_GREEN, strokeWidth=46, yOffset=11.5).encode(
        x=alt.value(2606), x2=alt.value(2705), y=YP("price")),
    alt.Chart(cp).mark_text(align="center", baseline="middle", color="#ffffff", fontSize=19, font=FONT, dy=1).encode(
        x=alt.value(2550), y=YP("price"), text="label:N"),
    alt.Chart(cp).mark_text(align="left", baseline="middle", color="#ffffff", fontSize=18, font=FONT, dy=1).encode(
        x=alt.value(2620), y=YP("price"), text="p:N"),
    alt.Chart(cp).mark_text(align="left", baseline="middle", color="#d3e8dc", fontSize=18, font=FONT, dy=23).encode(
        x=alt.value(2621), y=YP("price"), text="t:N"),
)

dia_x = [226, 251, 276, 301, 326, 350]
key_x = [337.5, 434.7, 531, 627]
val_x = [349, 447, 538, 641]
chrome = alt.layer(
    seg(-1, 195.5, 2710, 195.5, "#363a45", 2),
    seg(2606, 0, 2606, 1357, "#4d4d4d", 1),
    seg(0, 1314, 2710, 1314, "#4d4d4d", 1),
    box(-0.5, 0, 2710.5, 1357.5, PEACH, fill_opacity=0, stroke="#7a7a7a", sw=1),
    # header
    txt("bitcoinwallah published on TradingView.com, Sep 26, 2024 04:37 UTC-4", 0, -17, "#cfd2da", 19),
    # RSI legend
    txt("RSI (14, close)", 12, 26, TXT),
    txt("63.00", 153, 26, "#7e57c2"),
    *[txt("∅", dx, 26, "#555555", 18, align="center") for dx in dia_x],
    # price legend
    txt("Dogecoin / TetherUS, 1D, BINANCE", 12, 222, TXT),
    *[txt(k, kx, 222, "#4a4a4a") for k, kx in zip(ohlc_keys, key_x)],
    *[txt(v, vx, 222, VAL_GREEN) for v, vx in zip(ohlc_vals, val_x)],
    txt(change_txt, 722, 222, VAL_GREEN),
    txt("Vol · DOGE", 12, 249, TXT),
    txt("502.507 M", 122, 249, "#22a095"),
    txt("EMA (50, close, 0, EMA, 5)", 12, 276, TXT),
    txt("0.10642", 264, 276, "#f23645"),
    txt("EMA (200, close, 0, SMA, 5)", 12, 303, TXT),
    txt("0.11763", 277, 303, "#2962ff"),
    # USDT badge
    box(2612, 203, 2705, 242, "#ffffff", stroke="#e0e3eb", sw=1, radius=5),
    txt("USDT", 2627, 223, "#131722", 17),
    # footer logo
    box(-1, 1378, 16, 1384, "#d1d4dc"),
    box(8, 1378, 16, 1393, "#d1d4dc"),
    alt.Chart(ONE).mark_circle(size=40, color="#d1d4dc", opacity=1).encode(x=alt.value(21), y=alt.value(1381)),
    seg(28, 1378, 21, 1393, "#d1d4dc", 6),
    txt("TradingView", 36, 1387, "#d1d4dc", 21, 500),
)

chart = (
    alt.layer(bg, xgrid, rsi_layer, vol_layer, price_layer, chrome)
    .resolve_scale(y="independent")
    .properties(width=W, height=H,
                padding={"left": 9, "top": 35, "right": 112, "bottom": 83},
                autosize=alt.AutoSizeParams(type="none"),
                background=BG_DARK)
    .configure(font=FONT)
    .configure_view(stroke=None, fill=PEACH)
)

chart.save("out.html", embed_options={"renderer": "svg", "actions": False})
